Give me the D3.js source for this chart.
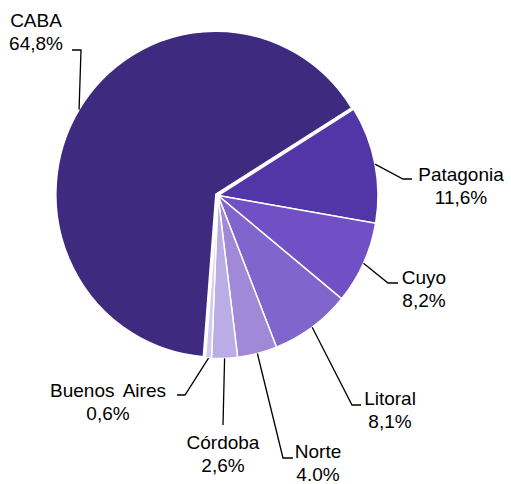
<!DOCTYPE html>
<html>
<head>
<meta charset="utf-8">
<script src="https://d3js.org/d3.v7.min.js"></script>
<style>
  body { margin: 0; background: #fff; }
  text { font-family: "Liberation Sans", Arial, sans-serif; font-size: 19px; fill: #000; }
</style>
</head>
<body>
<script>
// data
const regions = ['Patagonia', 'Cuyo', 'Litoral', 'Norte', 'Córdoba', 'Buenos Aires', 'CABA'];
const shares = [11.6, 8.2, 8.1, 4.0, 2.6, 0.6, 64.8];
const shareLabels = ['11,6%', '8,2%', '8,1%', '4.0%', '2,6%', '0,6%', '64,8%'];
const colors = ['#5236a8', '#7050c4', '#8066cc', '#a08ad8', '#baace4', '#d2c9f0', '#3e2a7e'];

// label layout: elbow of leader, end of leader, text centre x, first baseline
const labelLayout = {
  'Patagonia':    { elbow: [403, 179], end: [412, 179], tx: 461, ty: 181 },
  'Cuyo':         { elbow: [388, 283], end: [398, 283], tx: 424, ty: 284 },
  'Litoral':      { elbow: [352, 405], end: [361, 405], tx: 390, ty: 405 },
  'Norte':        { elbow: [283, 458], end: [293, 458], tx: 318, ty: 458 },
  'Córdoba':      { elbow: [223, 425], end: [223, 425], tx: 223, ty: 449 },
  'Buenos Aires': { elbow: [185, 395], end: [177, 395], tx: 108, ty: 397 },
  'CABA':         { elbow: [81, 50],   end: [72, 50],   tx: 36,  ty: 27 }
};

const width = 511, height = 484;
const cx = 218, cy = 195.5, r = 160, sy = 163 / 160;
const startAngle = 58 * Math.PI / 180;

const svg = d3.select('body').append('svg')
  .attr('width', width).attr('height', height);

const data = regions.map((name, i) => ({ name, value: shares[i], label: shareLabels[i], color: colors[i] }));

const pie = d3.pie().sort(null).value(d => d.value)
  .startAngle(startAngle).endAngle(startAngle + 2 * Math.PI);
const arcs = pie(data);

const arc = d3.arc().innerRadius(0).outerRadius(r);

const g = svg.append('g')
  .attr('transform', `translate(${cx},${cy}) scale(1,${sy})`);

g.selectAll('path')
  .data(arcs)
  .join('path')
  .attr('d', arc)
  .attr('fill', d => d.data.color)
  .attr('stroke', '#fff')
  .attr('stroke-width', 1.5)
  .attr('transform', d => {
    // CABA slice pulled out a little
    if (d.data.name !== 'CABA') return null;
    const a = (d.startAngle + d.endAngle) / 2;
    const off = 2.5;
    return `translate(${off * Math.sin(a)},${-off * Math.cos(a)})`;
  });

// leader lines and labels
const edgePoint = d => {
  const a = (d.startAngle + d.endAngle) / 2;
  const off = d.data.name === 'CABA' ? 2.5 : 0;
  return [cx + (r + off) * Math.sin(a), cy - (r + off) * Math.cos(a) * sy];
};

const lab = svg.append('g');
arcs.forEach(d => {
  const L = labelLayout[d.data.name];
  const p = edgePoint(d);
  lab.append('polyline')
    .attr('points', [p, L.elbow, L.end].map(q => q.join(',')).join(' '))
    .attr('fill', 'none')
    .attr('stroke', '#000')
    .attr('stroke-width', 1.3);
  const t = lab.append('text')
    .attr('text-anchor', 'middle')
    .attr('x', L.tx).attr('y', L.ty);
  t.append('tspan').attr('x', L.tx).attr('y', L.ty)
    .style('word-spacing', d.data.name === 'Buenos Aires' ? '4px' : null)
    .text(d.data.name);
  t.append('tspan').attr('x', L.tx).attr('y', L.ty + 23).text(d.data.label);
});
</script>
</body>
</html>
